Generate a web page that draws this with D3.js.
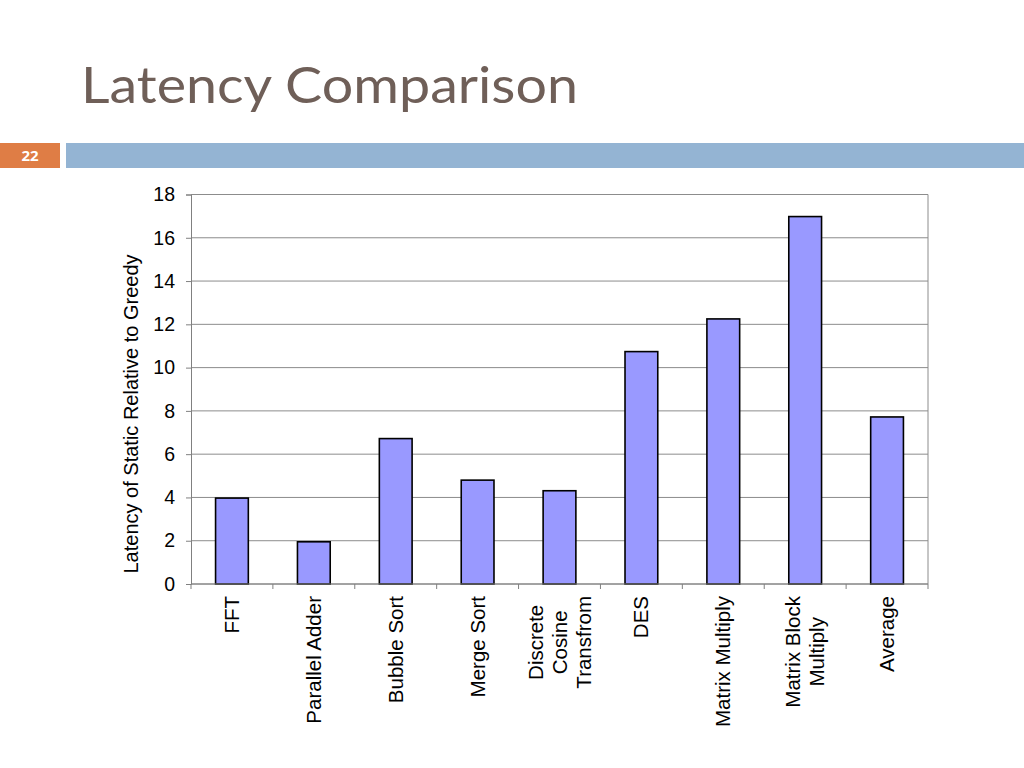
<!DOCTYPE html>
<html>
<head>
<meta charset="utf-8">
<script src="https://cdn.jsdelivr.net/npm/d3@7"></script>
<style>
   body { margin: 0; background: #fff; }
   svg { display: block; }
   .title { font-family: Lato, "Open Sans", sans-serif; fill: #6f5f58; }
   .tick text, .axisTitle, .xlabel { font-family: "Liberation Sans", Arial, sans-serif; fill: #000; }
</style>
</head>
<body>
<div id="chart"></div>
<script>
const width = 1024;
const height = 768;

// data
const categories = [
   "FFT", "Parallel Adder", "Bubble Sort", "Merge Sort",
   "Discrete\nCosine\nTransfrom", "DES", "Matrix Multiply",
   "Matrix Block\nMultiply", "Average"
];
const latency = [3.97, 1.95, 6.72, 4.8, 4.31, 10.74, 12.25, 16.98, 7.72];
const yTicks = [0, 2, 4, 6, 8, 10, 12, 14, 16, 18];

const margin = { top: 194.5, right: 96, bottom: 184, left: 191 };

const svg = d3.select("#chart").append("svg")
   .attr("width", width)
   .attr("height", height);

// slide header
svg.append("text")
   .attr("class", "title")
   .attr("x", 81)
   .attr("y", 103)
   .attr("font-size", 51)
   .attr("textLength", 497)
   .attr("lengthAdjust", "spacingAndGlyphs")
   .text("Latency Comparison");

svg.append("rect")
   .attr("x", 0).attr("y", 143)
   .attr("width", 60).attr("height", 25)
   .style("fill", "#df7d45");
svg.append("rect")
   .attr("x", 66).attr("y", 143)
   .attr("width", width - 66).attr("height", 25)
   .style("fill", "#94b4d3");
svg.append("text")
   .attr("x", 30).attr("y", 161)
   .attr("text-anchor", "middle")
   .style("font-family", "'Open Sans', sans-serif")
   .style("font-weight", "bold")
   .style("font-size", "15px")
   .style("fill", "#fff")
   .text("22");

// scales
let x = d3.scaleBand()
   .domain(d3.range(categories.length))
   .range([margin.left, width - margin.right])
   .paddingInner(0.6)
   .paddingOuter(0.3);

let y = d3.scaleLinear()
   .domain([0, 18])
   .range([height - margin.bottom, margin.top]);

const step = x.step();

// gridlines
svg.append("g")
   .selectAll("line")
   .data(yTicks)
   .enter()
   .append("line")
   .attr("x1", margin.left).attr("x2", width - margin.right)
   .attr("y1", d => y(d)).attr("y2", d => y(d))
   .style("stroke", "#8c8c8c")
   .style("stroke-width", 1);

// right border
svg.append("line")
   .attr("x1", width - margin.right).attr("x2", width - margin.right)
   .attr("y1", y(18)).attr("y2", y(0))
   .style("stroke", "#8c8c8c");

// y axis
const yAxis = svg.append("g")
   .attr("transform", `translate(${margin.left},0)`)
   .call(d3.axisLeft(y).tickValues(yTicks).tickSize(5).tickPadding(11));
yAxis.select(".domain").style("stroke", "#808080");
yAxis.selectAll(".tick line").style("stroke", "#808080");
yAxis.selectAll(".tick text").style("font-size", "19.5px");

// bars
svg.selectAll("rect.bar")
   .data(latency)
   .enter()
   .append("rect")
   .attr("class", "bar")
   .attr("x", (d, i) => x(i))
   .attr("y", d => y(d))
   .attr("width", x.bandwidth())
   .attr("height", d => y(0) - y(d))
   .style("fill", "#9999ff")
   .style("stroke", "#000")
   .style("stroke-width", 1.6);

// x axis line and separator ticks
svg.append("line")
   .attr("x1", margin.left).attr("x2", width - margin.right)
   .attr("y1", y(0)).attr("y2", y(0))
   .style("stroke", "#808080");
svg.append("g")
   .selectAll("line")
   .data(d3.range(categories.length + 1))
   .enter()
   .append("line")
   .attr("x1", i => margin.left + i * step)
   .attr("x2", i => margin.left + i * step)
   .attr("y1", y(0)).attr("y2", y(0) + 5)
   .style("stroke", "#808080");

// category labels, rotated, lines centred on each other
const labelTop = y(0) + 12;
const lineGap = 24;
categories.forEach((c, i) => {
   const lines = c.split("\n");
   const cx = x(i) + x.bandwidth() / 2;
   const g = svg.append("g");
   const texts = lines.map((t, k) => g.append("text")
      .attr("class", "xlabel")
      .style("font-size", "20.5px")
      .attr("text-anchor", "middle")
      .text(t));
   const maxLen = d3.max(texts, t => t.node().getComputedTextLength());
   texts.forEach((t, k) => {
      const lx = cx + (k - (lines.length - 1) / 2) * lineGap + 7;
      const ly = labelTop + maxLen / 2;
      t.attr("transform", `translate(${lx},${ly}) rotate(-90)`);
   });
});

// y axis title
svg.append("text")
   .attr("class", "axisTitle")
   .attr("transform", "translate(138,414) rotate(-90)")
   .attr("text-anchor", "middle")
   .style("font-size", "20px")
   .text("Latency of Static Relative to Greedy");
</script>
</body>
</html>
